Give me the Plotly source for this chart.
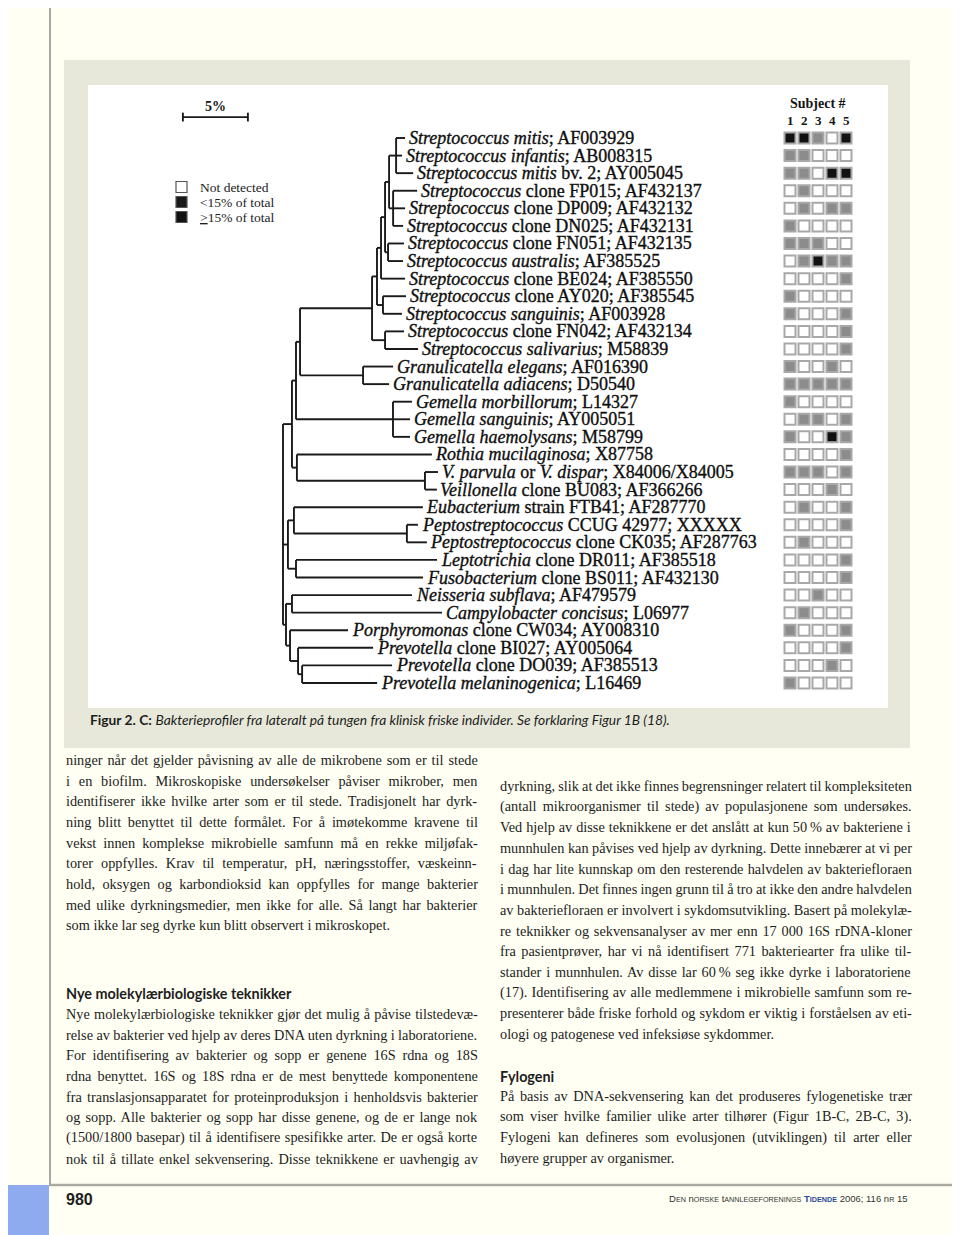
import re
import plotly.graph_objects as go

W, H = 960, 1235
OFF = 8   # the page body margin in which the figure div sits

# ---------------------------------------------------------------- data
taxa_labels = [
    "<i>Streptococcus mitis</i>; AF003929",
    "<i>Streptococcus infantis</i>; AB008315",
    "<i>Streptococcus mitis</i> bv. 2; AY005045",
    "<i>Streptococcus</i> clone FP015; AF432137",
    "<i>Streptococcus</i> clone DP009; AF432132",
    "<i>Streptococcus</i> clone DN025; AF432131",
    "<i>Streptococcus</i> clone FN051; AF432135",
    "<i>Streptococcus australis</i>; AF385525",
    "<i>Streptococcus</i> clone BE024; AF385550",
    "<i>Streptococcus</i> clone AY020; AF385545",
    "<i>Streptococcus sanguinis</i>; AF003928",
    "<i>Streptococcus</i> clone FN042; AF432134",
    "<i>Streptococcus salivarius</i>; M58839",
    "<i>Granulicatella elegans</i>; AF016390",
    "<i>Granulicatella adiacens</i>; D50540",
    "<i>Gemella morbillorum</i>; L14327",
    "<i>Gemella sanguinis</i>; AY005051",
    "<i>Gemella haemolysans</i>; M58799",
    "<i>Rothia mucilaginosa</i>; X87758",
    "<i>V. parvula</i> or <i>V. dispar</i>; X84006/X84005",
    "<i>Veillonella</i> clone BU083; AF366266",
    "<i>Eubacterium</i> strain FTB41; AF287770",
    "<i>Peptostreptococcus</i> CCUG 42977; XXXXX",
    "<i>Peptostreptococcus</i> clone CK035; AF287763",
    "<i>Leptotrichia</i> clone DR011; AF385518",
    "<i>Fusobacterium</i> clone BS011; AF432130",
    "<i>Neisseria subflava</i>; AF479579",
    "<i>Campylobacter concisus</i>; L06977",
    "<i>Porphyromonas</i> clone CW034; AY008310",
    "<i>Prevotella</i> clone BI027; AY005064",
    "<i>Prevotella</i> clone DO039; AF385513",
    "<i>Prevotella melaninogenica</i>; L16469",
]

subject_ids = [1, 2, 3, 4, 5]
# 0 = not detected, 1 = <15% of total, 2 = >=15% of total
detection = [
    [2, 2, 1, 0, 2],
    [1, 1, 0, 0, 0],
    [1, 1, 0, 2, 2],
    [0, 1, 0, 0, 0],
    [0, 1, 0, 1, 1],
    [1, 0, 0, 0, 0],
    [1, 1, 1, 0, 0],
    [0, 1, 2, 1, 1],
    [0, 0, 0, 0, 1],
    [1, 0, 0, 0, 0],
    [1, 0, 0, 0, 1],
    [0, 0, 0, 0, 1],
    [0, 0, 0, 0, 1],
    [1, 0, 0, 1, 0],
    [1, 1, 1, 1, 1],
    [1, 0, 0, 0, 0],
    [0, 1, 1, 0, 1],
    [1, 0, 0, 2, 1],
    [0, 0, 0, 0, 1],
    [1, 1, 1, 0, 1],
    [0, 0, 0, 1, 0],
    [0, 1, 0, 0, 1],
    [0, 0, 0, 0, 1],
    [0, 1, 0, 0, 0],
    [0, 0, 0, 0, 1],
    [0, 0, 0, 0, 1],
    [0, 0, 1, 0, 0],
    [0, 1, 0, 0, 0],
    [1, 0, 0, 0, 1],
    [0, 0, 0, 0, 1],
    [0, 0, 0, 1, 0],
    [1, 0, 0, 0, 0],
]
detection_levels = ["Not detected", "&lt;15% of total", "<u>&gt;</u>15% of total"]
scale_pct = 5

# tree topology (Newick pieces, branch lengths in % sequence difference;
# leaves are row indices into taxa_labels)
clades = {
    "ROOT": "(N1:0.69,N4:0.38,N7:0.23)",
    "N1": "(N2:0.31,N3:0.38)",
    "N2": "(SG:0.31,GEM:7.46)",
    "SG": "(STR:5.54,GRA:4.85)",
    "STR": "(SA:0.38,SE:1.0)",
    "SA": "(SB:0.31,SD:0.46)",
    "SB": "(SC:0.31,8:1.85)",
    "SC": "(SMI:0.31,SAU:0.23)",
    "SMI": "(SM1:0.54,SM2:0.31)",
    "SM1": "(0:0.69,1:0.46,2:1.31)",
    "SM2": "(3:1.85,4:0.92,5:0.77)",
    "SAU": "(6:1.23,7:1.15)",
    "SD": "(9:1.77,10:1.46)",
    "SE": "(11:1.46,12:2.54)",
    "GRA": "(13:2.31,14:2.0)",
    "GEM": "(15:1.46,16:1.31,17:1.31)",
    "N3": "(18:10.38,VEI:9.85)",
    "VEI": "(19:1.0,20:0.92)",
    "N4": "(N5:0.46,N6:0.62)",
    "N5": "(21:9.92,PEP:8.69)",
    "PEP": "(22:0.85,23:1.54)",
    "N6": "(24:10.85,25:9.77)",
    "N7": "(N8:0.46,BAC:0.31)",
    "N8": "(26:9.23,27:11.54)",
    "BAC": "(28:4.46,N9:0.62)",
    "N9": "(29:5.77,N10:0.31)",
    "N10": "(30:6.92,31:5.77)",
}

caption_bold = "Figur 2. C:"
caption_italic = "Bakterieprofiler fra lateralt på tungen fra klinisk friske individer. Se forklaring Figur 1B (18)."

left_par1 = [
    "ninger når det gjelder påvisning av alle de mikrobene som er til stede",
    "i en biofilm. Mikroskopiske undersøkelser påviser mikrober, men",
    "identifiserer ikke hvilke arter som er til stede. Tradisjonelt har dyrk-",
    "ning blitt benyttet til dette formålet. For å imøtekomme kravene til",
    "vekst innen komplekse mikrobielle samfunn må en rekke miljøfak-",
    "torer oppfylles. Krav til temperatur, pH, næringsstoffer, væskeinn-",
    "hold, oksygen og karbondioksid kan oppfylles for mange bakterier",
    "med ulike dyrkningsmedier, men ikke for alle. Så langt har bakterier",
    "som ikke lar seg dyrke kun blitt observert i mikroskopet.",
]
left_heading = "Nye molekylærbiologiske teknikker"
left_par2 = [
    "Nye molekylærbiologiske teknikker gjør det mulig å påvise tilstedevæ-",
    "relse av bakterier ved hjelp av deres DNA uten dyrkning i laboratoriene.",
    "For identifisering av bakterier og sopp er genene 16S rdna og 18S",
    "rdna benyttet. 16S og 18S rdna er de mest benyttede komponentene",
    "fra translasjonsapparatet for proteinproduksjon i henholdsvis bakterier",
    "og sopp. Alle bakterier og sopp har disse genene, og de er lange nok",
    "(1500/1800 basepar) til å identifisere spesifikke arter. De er også korte",
    "nok til å tillate enkel sekvensering. Disse teknikkene er uavhengig av",
]
right_par1 = [
    "dyrkning, slik at det ikke finnes begrensninger relatert til kompleksiteten",
    "(antall mikroorganismer til stede) av populasjonene som undersøkes.",
    "Ved hjelp av disse teknikkene er det anslått at kun 50\u2009% av bakteriene i",
    "munnhulen kan påvises ved hjelp av dyrkning. Dette innebærer at vi per",
    "i dag har lite kunnskap om den resterende halvdelen av bakteriefloraen",
    "i munnhulen. Det finnes ingen grunn til å tro at ikke den andre halvdelen",
    "av bakteriefloraen er involvert i sykdomsutvikling. Basert på molekylæ-",
    "re teknikker og sekvensanalyser av mer enn 17 000 16S rDNA-kloner",
    "fra pasientprøver, har vi nå identifisert 771 bakteriearter fra ulike til-",
    "stander i munnhulen. Av disse lar 60\u2009% seg ikke dyrke i laboratoriene",
    "(17). Identifisering av alle medlemmene i mikrobielle samfunn som re-",
    "presenterer både friske forhold og sykdom er viktig i forståelsen av eti-",
    "ologi og patogenese ved infeksiøse sykdommer.",
]
right_heading = "Fylogeni"
right_par2 = [
    "På basis av DNA-sekvensering kan det produseres fylogenetiske trær",
    "som viser hvilke familier ulike arter tilhører (Figur 1B-C, 2B-C, 3).",
    "Fylogeni kan defineres som evolusjonen (utviklingen) til arter eller",
    "høyere grupper av organismer.",
]
page_number = "980"

# ---------------------------------------------------------------- geometry / style
TREE_X0, PX_PER_PCT = 283.0, 13.0        # root position, 5 % = 65 px
ROW_Y0, ROW_H = 138.0, 17.58             # first taxon row, row pitch
GRID_X0, GRID_DX = 790.0, 14.0           # subject grid columns
PAGE_BG = "#fffff3"
PANEL = "#e7e8da"
LEVEL_COLORS = ["#ffffff", "#8c8c8c", "#111111"]
SERIF = "Liberation Serif, Times New Roman, serif"
SANS = "Lato, Liberation Sans, sans-serif"

# ---------------------------------------------------------------- tree
def expand(name):
    return re.sub(r"[A-Za-z_]\w*", lambda m: expand(m.group(0)), clades[name])

def parse_newick(s):
    s = s.strip().rstrip(";")
    pos = 0

    def node():
        nonlocal pos
        n = {"children": [], "name": None, "bl": 0.0}
        if s[pos] == "(":
            pos += 1
            while True:
                n["children"].append(node())
                if s[pos] == ",":
                    pos += 1
                    continue
                pos += 1
                break
        st = pos
        while pos < len(s) and s[pos] not in ":,()":
            pos += 1
        if s[st:pos]:
            n["name"] = s[st:pos]
        if pos < len(s) and s[pos] == ":":
            pos += 1
            st = pos
            while pos < len(s) and s[pos] not in ",()":
                pos += 1
            n["bl"] = float(s[st:pos])
        return n

    return node()

tree = parse_newick(expand("ROOT"))

def place(n, depth):
    n["x"] = depth + n["bl"]
    if n["children"]:
        for c in n["children"]:
            place(c, n["x"])
        n["y"] = (n["children"][0]["y"] + n["children"][-1]["y"]) / 2
    else:
        n["y"] = int(n["name"])

place(tree, 0.0)

seg_x, seg_y, leaves = [], [], []

def collect(n):
    if not n["children"]:
        leaves.append(n)
        return
    seg_x.extend([n["x"], n["x"], None])
    seg_y.extend([n["children"][0]["y"], n["children"][-1]["y"], None])
    for c in n["children"]:
        seg_x.extend([n["x"], c["x"], None])
        seg_y.extend([c["y"], c["y"], None])
        collect(c)

collect(tree)

# ---------------------------------------------------------------- text helpers
TW = {' ': 250, 'a': 444, 'b': 500, 'c': 444, 'd': 500, 'e': 444, 'f': 333, 'g': 500,
      'h': 500, 'i': 278, 'j': 278, 'k': 500, 'l': 278, 'm': 778, 'n': 500, 'o': 500,
      'p': 500, 'q': 500, 'r': 333, 's': 389, 't': 278, 'u': 500, 'v': 500, 'w': 722,
      'x': 500, 'y': 500, 'z': 444, 'æ': 667, 'ø': 500, 'å': 444, 'A': 722, 'B': 667,
      'C': 667, 'D': 722, 'E': 611, 'F': 556, 'G': 722, 'H': 722, 'I': 333, 'J': 389,
      'K': 722, 'L': 611, 'M': 889, 'N': 722, 'O': 722, 'P': 556, 'Q': 722, 'R': 667,
      'S': 556, 'T': 611, 'U': 722, 'V': 722, 'W': 944, 'X': 722, 'Y': 722, 'Z': 611,
      'Æ': 889, 'Ø': 722, 'Å': 722, '.': 250, ',': 250, ';': 278, ':': 278, '-': 333,
      '(': 333, ')': 333, '/': 278, '%': 833, '\u2009': 167}

BODY_SIZE = 14.3
COL_W = 412.0

def justify(line, size=BODY_SIZE, width=COL_W):
    nat = sum(TW.get(ch, 500) for ch in line) / 1000.0 * size
    n = line.count(" ")
    if n == 0:
        return line
    ws = (width - nat) / n
    return '<span style="word-spacing:%.2fpx">%s</span>' % (ws, line)

# ---------------------------------------------------------------- figure
fig = go.Figure()
fig.add_trace(go.Scatter(x=[OFF], y=[OFF], mode="markers", marker=dict(opacity=0),
                         hoverinfo="skip", xaxis="x", yaxis="y"))

# tree branches
fig.add_trace(go.Scatter(x=seg_x, y=seg_y, mode="lines", xaxis="x2", yaxis="y2",
                         line=dict(color="#1a1a1a", width=1.9), hoverinfo="skip"))

# scale bar (5 %)
sb_x0 = -7.7
sb_row = -1.19
fig.add_trace(go.Scatter(
    x=[sb_x0, sb_x0 + scale_pct, None, sb_x0, sb_x0, None, sb_x0 + scale_pct, sb_x0 + scale_pct],
    y=[sb_row, sb_row, None, sb_row - 0.25, sb_row + 0.25, None, sb_row - 0.25, sb_row + 0.25],
    mode="lines", xaxis="x2", yaxis="y2", line=dict(color="#1a1a1a", width=1.9),
    hoverinfo="skip"))

# subject grid
gx, gy, gc = [], [], []
for r, row in enumerate(detection):
    for s, v in zip(subject_ids, row):
        gx.append(s)
        gy.append(r)
        gc.append(LEVEL_COLORS[v])
fig.add_trace(go.Scatter(x=gx, y=gy, mode="markers", xaxis="x3", yaxis="y2",
                         marker=dict(symbol="square", size=11, color=gc,
                                     line=dict(color="#a8a8a8", width=2)),
                         hoverinfo="skip"))

HEAVY = '<span style="stroke:#141414;stroke-width:0.35px">%s</span>'

ann = []
for lf in leaves:
    ann.append(dict(x=lf["x"] + 0.12, y=lf["y"], xref="x2", yref="y2",
                    text=HEAVY % taxa_labels[lf["y"]], showarrow=False, xanchor="left",
                    yanchor="middle", font=dict(family=SERIF, size=18, color="#0d0d0d")))

ann.append(dict(x=sb_x0 + scale_pct / 2, y=sb_row - 0.58, xref="x2", yref="y2",
                text="<b>%d%%</b>" % scale_pct, showarrow=False, yanchor="middle",
                font=dict(family=SERIF, size=14, color="#151515")))

ann.append(dict(x=3, y=103, xref="x3", yref="y", text="<b>Subject #</b>", showarrow=False,
                yanchor="middle", font=dict(family=SERIF, size=14, color="#151515")))
for s in subject_ids:
    ann.append(dict(x=s, y=120, xref="x3", yref="y", text="<b>%d</b>" % s, showarrow=False,
                    yanchor="middle", font=dict(family=SERIF, size=13, color="#151515")))

# legend
legend_shapes = []
legend_y = [187, 202, 217]
legend_fill = ["#ffffff", "#1a1a1a", "#111111"]
for yy, lab, fc in zip(legend_y, detection_levels, legend_fill):
    legend_shapes.append(dict(type="rect", xref="x", yref="y", x0=176, x1=187,
                              y0=yy - 5.5, y1=yy + 5.5, fillcolor=fc,
                              line=dict(color="#555", width=1.2), layer="above"))
    ann.append(dict(x=198, y=yy, xref="x", yref="y", text=lab, showarrow=False,
                    xanchor="left", yanchor="middle",
                    font=dict(family=SERIF, size=13.5, color="#222")))

# page decoration
shapes = [
    dict(type="rect", xref="x", yref="y", x0=0, x1=W, y0=0, y1=H,
         fillcolor=PAGE_BG, line=dict(width=0), layer="below"),
    dict(type="rect", xref="x", yref="y", x0=64, x1=910, y0=60, y1=748,
         fillcolor=PANEL, line=dict(width=0), layer="below"),
    dict(type="rect", xref="x", yref="y", x0=88, x1=888, y0=85, y1=708,
         fillcolor="#ffffff", line=dict(width=0), layer="below"),
    dict(type="line", xref="x", yref="y", x0=50, x1=50, y0=0, y1=1185,
         line=dict(color="#8a8a8a", width=1.5)),
    dict(type="rect", xref="x", yref="y", x0=0, x1=49, y0=1185, y1=1235,
         fillcolor="#8eabf0", line=dict(width=0)),
    dict(type="line", xref="x", yref="y", x0=49, x1=960, y0=1185, y1=1185,
         line=dict(color="#a9a9a2", width=2.5)),
] + legend_shapes

# caption
ann.append(dict(x=88, y=719, xref="x", yref="y", showarrow=False, xanchor="left",
                yanchor="middle",
                text="<b>%s</b> <i>%s</i>" % (caption_bold, caption_italic),
                font=dict(family=SANS, size=13.8, color="#1d1d1d")))

# body text
PITCH = 20.65

def add_par(lines, x0, y0, last_plain=True):
    for k, ln in enumerate(lines):
        plain = last_plain and k == len(lines) - 1
        ann.append(dict(x=x0, y=y0 + k * PITCH, xref="x", yref="y", showarrow=False,
                        xanchor="left", yanchor="middle",
                        text=ln if plain else justify(ln),
                        font=dict(family=SERIF, size=BODY_SIZE, color="#1d1d1d")))

add_par(left_par1, 64, 760)
ann.append(dict(x=64, y=993, xref="x", yref="y", showarrow=False, xanchor="left",
                yanchor="middle", text="<b>%s</b>" % left_heading,
                font=dict(family=SANS, size=14.4, color="#1d1d1d")))
add_par(left_par2, 64, 1014, last_plain=False)
add_par(right_par1, 498, 786)
ann.append(dict(x=498, y=1076, xref="x", yref="y", showarrow=False, xanchor="left",
                yanchor="middle", text="<b>%s</b>" % right_heading,
                font=dict(family=SANS, size=14.4, color="#1d1d1d")))
add_par(right_par2, 498, 1096)

# footer
ann.append(dict(x=64, y=1199, xref="x", yref="y", showarrow=False, xanchor="left",
                yanchor="middle", text="<b>%s</b>" % page_number,
                font=dict(family="Liberation Sans Narrow, Liberation Sans, sans-serif",
                          size=16, color="#1d1d1d")))

def smallcaps(word, big=9.5, small=7.2):
    return ('<span style="font-size:%spx">%s</span><span style="font-size:%spx">%s</span>'
            % (big, word[0], small, word[1:].upper()))

footer = " ".join([smallcaps("Den"), smallcaps("norske"), smallcaps("tannlegeforenings"),
                   '<b><span style="fill:#2a4a9a">%s</span></b>' % smallcaps("Tidende"),
                   '<span style="font-size:9.5px">2006; 116</span>',
                   smallcaps("nr"), '<span style="font-size:9.5px">15</span>'])
ann.append(dict(x=910, y=1198, xref="x", yref="y", showarrow=False, xanchor="right",
                yanchor="middle", text=footer,
                font=dict(family="Liberation Sans Narrow, Liberation Sans, sans-serif",
                          size=9.5, color="#333")))

hidden = dict(visible=False, showgrid=False, zeroline=False, fixedrange=True)
fig.update_layout(
    width=W - OFF, height=H - OFF, autosize=False, showlegend=False,
    margin=dict(l=0, r=0, t=0, b=0, pad=0),
    paper_bgcolor=PAGE_BG, plot_bgcolor=PAGE_BG,
    xaxis=dict(range=[OFF, W], domain=[0, 1], **hidden),
    yaxis=dict(range=[H, OFF], domain=[0, 1], **hidden),
    xaxis2=dict(range=[(OFF - TREE_X0) / PX_PER_PCT, (W - TREE_X0) / PX_PER_PCT],
                overlaying="x", anchor="y2", **hidden),
    xaxis3=dict(range=[1 + (OFF - GRID_X0) / GRID_DX, 1 + (W - GRID_X0) / GRID_DX],
                overlaying="x", anchor="y2", **hidden),
    yaxis2=dict(range=[(H - ROW_Y0) / ROW_H, (OFF - ROW_Y0) / ROW_H],
                overlaying="y", anchor="x2", **hidden),
    shapes=shapes, annotations=ann,
)

fig.write_html("out.html")
